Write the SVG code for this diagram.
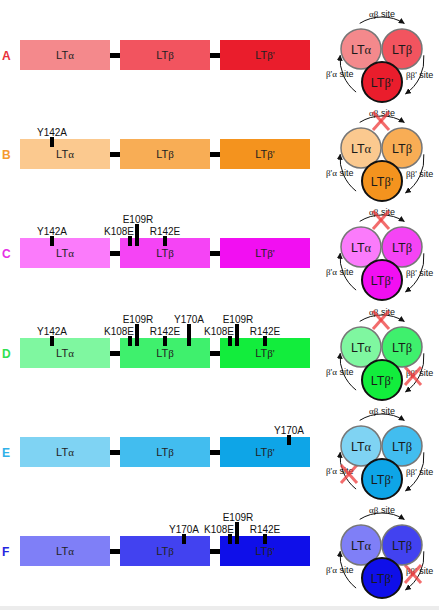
<svg xmlns="http://www.w3.org/2000/svg" xmlns:xlink="http://www.w3.org/1999/xlink" width="439" height="610" viewBox="0 0 439 610">
<defs>
<style>
.bl{font-family:"Liberation Sans",Arial,sans-serif;font-size:11px;fill:#222;text-anchor:middle}
.cl{font-family:"Liberation Sans",Arial,sans-serif;font-size:12.5px;fill:#1a1a1a;text-anchor:middle}
.gk{font-family:"Liberation Serif","Times New Roman",serif}
.mut{font-family:"Liberation Sans",Arial,sans-serif;font-size:10px;fill:#111}
.mid{text-anchor:middle}
.end{text-anchor:end}
.tick{fill:#000}
.link{fill:#000}
.let{font-family:"Liberation Sans",Arial,sans-serif;font-size:12px;font-weight:bold}
.ca{stroke:#777;stroke-width:1.5}
.cb{stroke:#111;stroke-width:2}
.arc{fill:none;stroke:#111;stroke-width:1;marker-end:url(#ah)}
.site{font-family:"Liberation Sans",Arial,sans-serif;font-size:9px;fill:#111}
.xm{stroke:#ee3b3b;stroke-width:3;stroke-opacity:0.75;fill:none}
</style>
<marker id="ah" viewBox="0 0 10 10" refX="9" refY="5" markerWidth="6" markerHeight="6" markerUnits="userSpaceOnUse" orient="auto"><path d="M0,0 L10,5 L0,10 z" fill="#111"/></marker>
<g id="xmark"><line class="xm" x1="-8" y1="-9" x2="8" y2="9"/><line class="xm" x1="8" y1="-9" x2="-8" y2="9"/></g>
<g id="arcs">
<path class="arc" d="M359.7,23.4 A42,42 0 0,1 404.3,23.4"/>
<path class="arc" d="M423.8,55.3 A42,42 0 0,1 405.5,93.8"/>
<path class="arc" d="M356.1,92.1 A42,42 0 0,1 340.2,55.3"/>
</g>
</defs>
<rect x="0" y="0" width="439" height="610" fill="#fff"/>
<rect x="0" y="606" width="439" height="4" fill="#ececec"/>

<!-- connectors -->
<g id="connectors">
<g transform="translate(0,0)"><rect class="link" x="110" y="53" width="10" height="5"/><rect class="link" x="210" y="53" width="10" height="5"/><use xlink:href="#arcs"/></g>
<g transform="translate(0,99)"><rect class="link" x="110" y="53" width="10" height="5"/><rect class="link" x="210" y="53" width="10" height="5"/><use xlink:href="#arcs"/></g>
<g transform="translate(0,198)"><rect class="link" x="110" y="53" width="10" height="5"/><rect class="link" x="210" y="53" width="10" height="5"/><use xlink:href="#arcs"/></g>
<g transform="translate(0,298)"><rect class="link" x="110" y="53" width="10" height="5"/><rect class="link" x="210" y="53" width="10" height="5"/><use xlink:href="#arcs"/></g>
<g transform="translate(0,397)"><rect class="link" x="110" y="53" width="10" height="5"/><rect class="link" x="210" y="53" width="10" height="5"/><use xlink:href="#arcs"/></g>
<g transform="translate(0,496)"><rect class="link" x="110" y="53" width="10" height="5"/><rect class="link" x="210" y="53" width="10" height="5"/><use xlink:href="#arcs"/></g>
</g>

<!-- Row A -->
<g id="row-A">
<text class="let" x="2" y="60" fill="#e8303a">A</text>
<g id="A-bar-a"><rect x="20" y="40" width="90" height="30" fill="#f4898c"/><text class="bl" x="65" y="59">LT<tspan class="gk">α</tspan></text></g>
<g id="A-bar-b"><rect x="120" y="40" width="90" height="30" fill="#f2545f"/><text class="bl" x="165" y="59">LT<tspan class="gk">β</tspan></text></g>
<g id="A-bar-b2"><rect x="220" y="40" width="90" height="30" fill="#ea1d2c"/><text class="bl" x="265" y="59">LT<tspan class="gk">β'</tspan></text></g>
<text class="site mid" x="382" y="17"><tspan class="gk">αβ</tspan> site</text>
<text class="site" x="326" y="77"><tspan class="gk">β'α</tspan> site</text>
<text class="site" x="406" y="78"><tspan class="gk">ββ'</tspan> site</text>
<g id="A-c-a"><circle class="ca" cx="361" cy="49" r="20" fill="#f4898c"/><text class="cl" x="361" y="54">LT<tspan class="gk">α</tspan></text></g>
<g id="A-c-b"><circle class="ca" cx="402" cy="49" r="20" fill="#f2545f"/><text class="cl" x="402" y="54">LT<tspan class="gk">β</tspan></text></g>
<g id="A-c-b2"><circle class="cb" cx="382" cy="82" r="20" fill="#ea1d2c"/><text class="cl" x="382" y="87">LT<tspan class="gk">β'</tspan></text></g>
</g>

<!-- Row B -->
<g id="row-B" transform="translate(0,99)">
<text class="let" x="2" y="60" fill="#f59a30">B</text>
<g id="B-bar-a"><rect x="20" y="40" width="90" height="30" fill="#fbc98f"/><text class="bl" x="65" y="59">LT<tspan class="gk">α</tspan></text></g>
<g id="B-bar-b"><rect x="120" y="40" width="90" height="30" fill="#f8ad55"/><text class="bl" x="165" y="59">LT<tspan class="gk">β</tspan></text></g>
<g id="B-bar-b2"><rect x="220" y="40" width="90" height="30" fill="#f4931e"/><text class="bl" x="265" y="59">LT<tspan class="gk">β'</tspan></text></g>
<rect class="tick" x="50" y="38" width="4" height="10"/><text class="mut mid" x="52" y="37">Y142A</text>
<text class="site mid" x="382" y="17"><tspan class="gk">αβ</tspan> site</text>
<text class="site" x="326" y="77"><tspan class="gk">β'α</tspan> site</text>
<text class="site" x="406" y="78"><tspan class="gk">ββ'</tspan> site</text>
<use xlink:href="#xmark" x="381" y="22"/>
<g id="B-c-a"><circle class="ca" cx="361" cy="49" r="20" fill="#fbc98f"/><text class="cl" x="361" y="54">LT<tspan class="gk">α</tspan></text></g>
<g id="B-c-b"><circle class="ca" cx="402" cy="49" r="20" fill="#f8ad55"/><text class="cl" x="402" y="54">LT<tspan class="gk">β</tspan></text></g>
<g id="B-c-b2"><circle class="cb" cx="382" cy="82" r="20" fill="#f4931e"/><text class="cl" x="382" y="87">LT<tspan class="gk">β'</tspan></text></g>
</g>

<!-- Row C -->
<g id="row-C" transform="translate(0,198)">
<text class="let" x="2" y="60" fill="#e52ee5">C</text>
<g id="C-bar-a"><rect x="20" y="40" width="90" height="30" fill="#fb7bfb"/><text class="bl" x="65" y="59">LT<tspan class="gk">α</tspan></text></g>
<g id="C-bar-b"><rect x="120" y="40" width="90" height="30" fill="#f544f5"/><text class="bl" x="165" y="59">LT<tspan class="gk">β</tspan></text></g>
<g id="C-bar-b2"><rect x="220" y="40" width="90" height="30" fill="#f20ff2"/><text class="bl" x="265" y="59">LT<tspan class="gk">β'</tspan></text></g>
<rect class="tick" x="50" y="38" width="4" height="10"/><text class="mut mid" x="52" y="37">Y142A</text>
<rect class="tick" x="128" y="38" width="4" height="10"/><text class="mut end" x="134" y="37">K108E</text>
<rect class="tick" x="135" y="26" width="4" height="22"/><text class="mut mid" x="138" y="25">E109R</text>
<rect class="tick" x="163" y="38" width="4" height="10"/><text class="mut mid" x="165" y="37">R142E</text>
<text class="site mid" x="382" y="17"><tspan class="gk">αβ</tspan> site</text>
<text class="site" x="326" y="77"><tspan class="gk">β'α</tspan> site</text>
<text class="site" x="406" y="78"><tspan class="gk">ββ'</tspan> site</text>
<use xlink:href="#xmark" x="381" y="22"/>
<g id="C-c-a"><circle class="ca" cx="361" cy="49" r="20" fill="#fb7bfb"/><text class="cl" x="361" y="54">LT<tspan class="gk">α</tspan></text></g>
<g id="C-c-b"><circle class="ca" cx="402" cy="49" r="20" fill="#f544f5"/><text class="cl" x="402" y="54">LT<tspan class="gk">β</tspan></text></g>
<g id="C-c-b2"><circle class="cb" cx="382" cy="82" r="20" fill="#f20ff2"/><text class="cl" x="382" y="87">LT<tspan class="gk">β'</tspan></text></g>
</g>

<!-- Row D -->
<g id="row-D" transform="translate(0,298)">
<text class="let" x="2" y="60" fill="#30e050">D</text>
<g id="D-bar-a"><rect x="20" y="40" width="90" height="30" fill="#7ff7a0"/><text class="bl" x="65" y="59">LT<tspan class="gk">α</tspan></text></g>
<g id="D-bar-b"><rect x="120" y="40" width="90" height="30" fill="#3ff06d"/><text class="bl" x="165" y="59">LT<tspan class="gk">β</tspan></text></g>
<g id="D-bar-b2"><rect x="220" y="40" width="90" height="30" fill="#12ed3c"/><text class="bl" x="265" y="59">LT<tspan class="gk">β'</tspan></text></g>
<rect class="tick" x="50" y="38" width="4" height="10"/><text class="mut mid" x="52" y="37">Y142A</text>
<rect class="tick" x="128" y="38" width="4" height="10"/><text class="mut end" x="134" y="37">K108E</text>
<rect class="tick" x="135" y="26" width="4" height="22"/><text class="mut mid" x="138" y="25">E109R</text>
<rect class="tick" x="163" y="38" width="4" height="10"/><text class="mut mid" x="165" y="37">R142E</text>
<rect class="tick" x="187" y="26" width="4" height="22"/><text class="mut mid" x="189" y="25">Y170A</text>
<rect class="tick" x="228" y="38" width="4" height="10"/><text class="mut end" x="234" y="37">K108E</text>
<rect class="tick" x="235" y="26" width="4" height="22"/><text class="mut mid" x="238" y="25">E109R</text>
<rect class="tick" x="263" y="38" width="4" height="10"/><text class="mut mid" x="265" y="37">R142E</text>
<text class="site mid" x="382" y="17"><tspan class="gk">αβ</tspan> site</text>
<text class="site" x="326" y="77"><tspan class="gk">β'α</tspan> site</text>
<text class="site" x="406" y="78"><tspan class="gk">ββ'</tspan> site</text>
<use xlink:href="#xmark" x="381" y="22"/>
<use xlink:href="#xmark" x="413" y="78"/>
<g id="D-c-a"><circle class="ca" cx="361" cy="49" r="20" fill="#7ff7a0"/><text class="cl" x="361" y="54">LT<tspan class="gk">α</tspan></text></g>
<g id="D-c-b"><circle class="ca" cx="402" cy="49" r="20" fill="#3ff06d"/><text class="cl" x="402" y="54">LT<tspan class="gk">β</tspan></text></g>
<g id="D-c-b2"><circle class="cb" cx="382" cy="82" r="20" fill="#12ed3c"/><text class="cl" x="382" y="87">LT<tspan class="gk">β'</tspan></text></g>
</g>

<!-- Row E -->
<g id="row-E" transform="translate(0,397)">
<text class="let" x="2" y="60" fill="#30b0e8">E</text>
<g id="E-bar-a"><rect x="20" y="40" width="90" height="30" fill="#7fd3f3"/><text class="bl" x="65" y="59">LT<tspan class="gk">α</tspan></text></g>
<g id="E-bar-b"><rect x="120" y="40" width="90" height="30" fill="#42bdef"/><text class="bl" x="165" y="59">LT<tspan class="gk">β</tspan></text></g>
<g id="E-bar-b2"><rect x="220" y="40" width="90" height="30" fill="#0ea5e7"/><text class="bl" x="265" y="59">LT<tspan class="gk">β'</tspan></text></g>
<rect class="tick" x="287" y="38" width="4" height="10"/><text class="mut mid" x="289" y="37">Y170A</text>
<text class="site mid" x="382" y="17"><tspan class="gk">αβ</tspan> site</text>
<text class="site" x="326" y="77"><tspan class="gk">β'α</tspan> site</text>
<text class="site" x="406" y="78"><tspan class="gk">ββ'</tspan> site</text>
<use xlink:href="#xmark" x="349" y="77"/>
<g id="E-c-a"><circle class="ca" cx="361" cy="49" r="20" fill="#7fd3f3"/><text class="cl" x="361" y="54">LT<tspan class="gk">α</tspan></text></g>
<g id="E-c-b"><circle class="ca" cx="402" cy="49" r="20" fill="#42bdef"/><text class="cl" x="402" y="54">LT<tspan class="gk">β</tspan></text></g>
<g id="E-c-b2"><circle class="cb" cx="382" cy="82" r="20" fill="#0ea5e7"/><text class="cl" x="382" y="87">LT<tspan class="gk">β'</tspan></text></g>
</g>

<!-- Row F -->
<g id="row-F" transform="translate(0,496)">
<text class="let" x="2" y="60" fill="#2525e0">F</text>
<g id="F-bar-a"><rect x="20" y="40" width="90" height="30" fill="#7f7ff7"/><text class="bl" x="65" y="59">LT<tspan class="gk">α</tspan></text></g>
<g id="F-bar-b"><rect x="120" y="40" width="90" height="30" fill="#4242f0"/><text class="bl" x="165" y="59">LT<tspan class="gk">β</tspan></text></g>
<g id="F-bar-b2"><rect x="220" y="40" width="90" height="30" fill="#0f0fe9"/><text class="bl" x="265" y="59">LT<tspan class="gk">β'</tspan></text></g>
<rect class="tick" x="182" y="38" width="4" height="10"/><text class="mut mid" x="184" y="37">Y170A</text>
<rect class="tick" x="228" y="38" width="4" height="10"/><text class="mut end" x="234" y="37">K108E</text>
<rect class="tick" x="235" y="26" width="4" height="22"/><text class="mut mid" x="238" y="25">E109R</text>
<rect class="tick" x="263" y="38" width="4" height="10"/><text class="mut mid" x="265" y="37">R142E</text>
<text class="site mid" x="382" y="17"><tspan class="gk">αβ</tspan> site</text>
<text class="site" x="326" y="77"><tspan class="gk">β'α</tspan> site</text>
<text class="site" x="406" y="78"><tspan class="gk">ββ'</tspan> site</text>
<use xlink:href="#xmark" x="413" y="78"/>
<g id="F-c-a"><circle class="ca" cx="361" cy="49" r="20" fill="#7f7ff7"/><text class="cl" x="361" y="54">LT<tspan class="gk">α</tspan></text></g>
<g id="F-c-b"><circle class="ca" cx="402" cy="49" r="20" fill="#4242f0"/><text class="cl" x="402" y="54">LT<tspan class="gk">β</tspan></text></g>
<g id="F-c-b2"><circle class="cb" cx="382" cy="82" r="20" fill="#0f0fe9"/><text class="cl" x="382" y="87">LT<tspan class="gk">β'</tspan></text></g>
</g>
</svg>
